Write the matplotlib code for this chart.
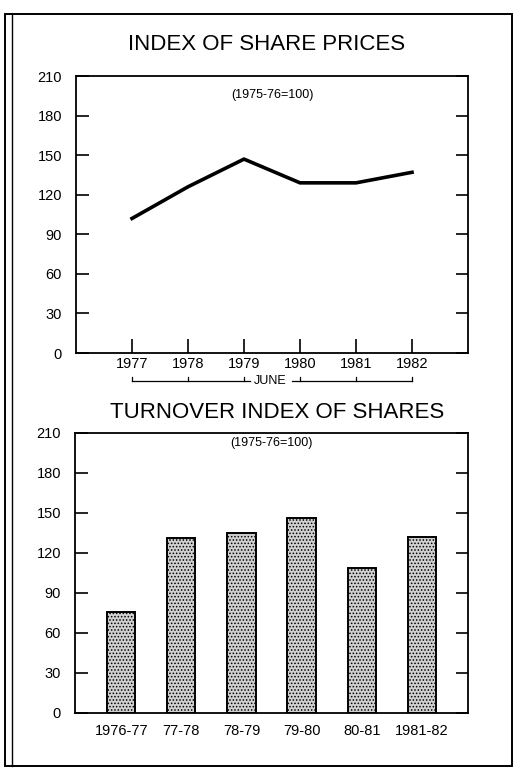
import numpy as np
import matplotlib.pyplot as plt
from matplotlib.patches import Rectangle
import matplotlib.transforms as mtransforms

plt.rcParams['font.family'] = ['Liberation Sans', 'DejaVu Sans']
plt.rcParams['hatch.linewidth'] = 0.7

# Data
years = [1977, 1978, 1979, 1980, 1981, 1982]
price_index = [102, 126, 147, 129, 129, 137]

periods = ['1976-77', '77-78', '78-79', '79-80', '80-81', '1981-82']
turnover = [76, 131, 135, 146, 109, 132]

yticks = [0, 30, 60, 90, 120, 150, 180, 210]

W, H = 516, 772
fig = plt.figure(figsize=(W / 100, H / 100), dpi=100)


def px_axes(x0, y0, x1, y1):
    return fig.add_axes([x0 / W, 1 - y1 / H, (x1 - x0) / W, (y1 - y0) / H])


def style_axes(ax):
    ax.set_ylim(0, 210)
    ax.set_yticks(yticks)
    ax.tick_params(axis='y', direction='in', length=9, width=1.2,
                   left=True, right=True, labelsize=10.5, pad=10)
    for s in ax.spines.values():
        s.set_linewidth(1.3)


# Outer border (double line on the left)
fig.patches.append(Rectangle((5 / W, 1 - 766 / H), 507 / W, 752 / H,
                             transform=fig.transFigure, fill=False,
                             lw=1.4, ec='black'))
fig.add_artist(plt.Line2D([12 / W, 12 / W], [1 - 766 / H, 1 - 14 / H],
                          transform=fig.transFigure, color='black', lw=1.0))

# Top chart: index of share prices
ax1 = px_axes(76, 76, 468, 353)
ax1.plot(years, price_index, color='black', lw=2.6)
ax1.set_xlim(1976, 1983)
ax1.set_xticks(years)
ax1.set_xticklabels([str(y) for y in years])
ax1.tick_params(axis='x', direction='in', length=10, width=1.2, labelsize=10.5, pad=3)
style_axes(ax1)
ax1.text(0.5, 0.93, '(1975-76=100)', transform=ax1.transAxes,
         ha='center', va='center', fontsize=9)

# "JUNE" bracket under the year labels
trans = mtransforms.blended_transform_factory(ax1.transData, ax1.transAxes)
yb = -0.101
ax1.plot([years[0], 1979.1], [yb, yb], color='black', lw=0.9,
         transform=trans, clip_on=False)
ax1.plot([1979.85, years[-1]], [yb, yb], color='black', lw=0.9,
         transform=trans, clip_on=False)
for y in years:
    ax1.plot([y, y], [yb, yb + 0.015], color='black', lw=0.9,
             transform=trans, clip_on=False)
ax1.text(1979.47, yb, 'JUNE', transform=trans, ha='center', va='center', fontsize=9)

fig.text(267 / W, 1 - 45 / H, 'INDEX OF SHARE PRICES', ha='center', va='center',
         fontsize=16)

# Bottom chart: turnover index of shares
ax2 = px_axes(75, 433, 468, 713)
x = np.arange(len(periods))
ax2.bar(x, turnover, width=0.47, facecolor='#d0d0d0', edgecolor='black',
        hatch='.....', lw=1.4)
ax2.set_xlim(-0.77, 5.77)
ax2.set_xticks(x)
ax2.set_xticklabels(periods)
ax2.tick_params(axis='x', length=0, labelsize=10.5, pad=8)
style_axes(ax2)
ax2.text(0.5, 0.963, '(1975-76=100)', transform=ax2.transAxes,
         ha='center', va='center', fontsize=9)

fig.text(277 / W, 1 - 413 / H, 'TURNOVER INDEX OF SHARES', ha='center', va='center',
         fontsize=16)

fig.savefig('out.png', dpi=100)
